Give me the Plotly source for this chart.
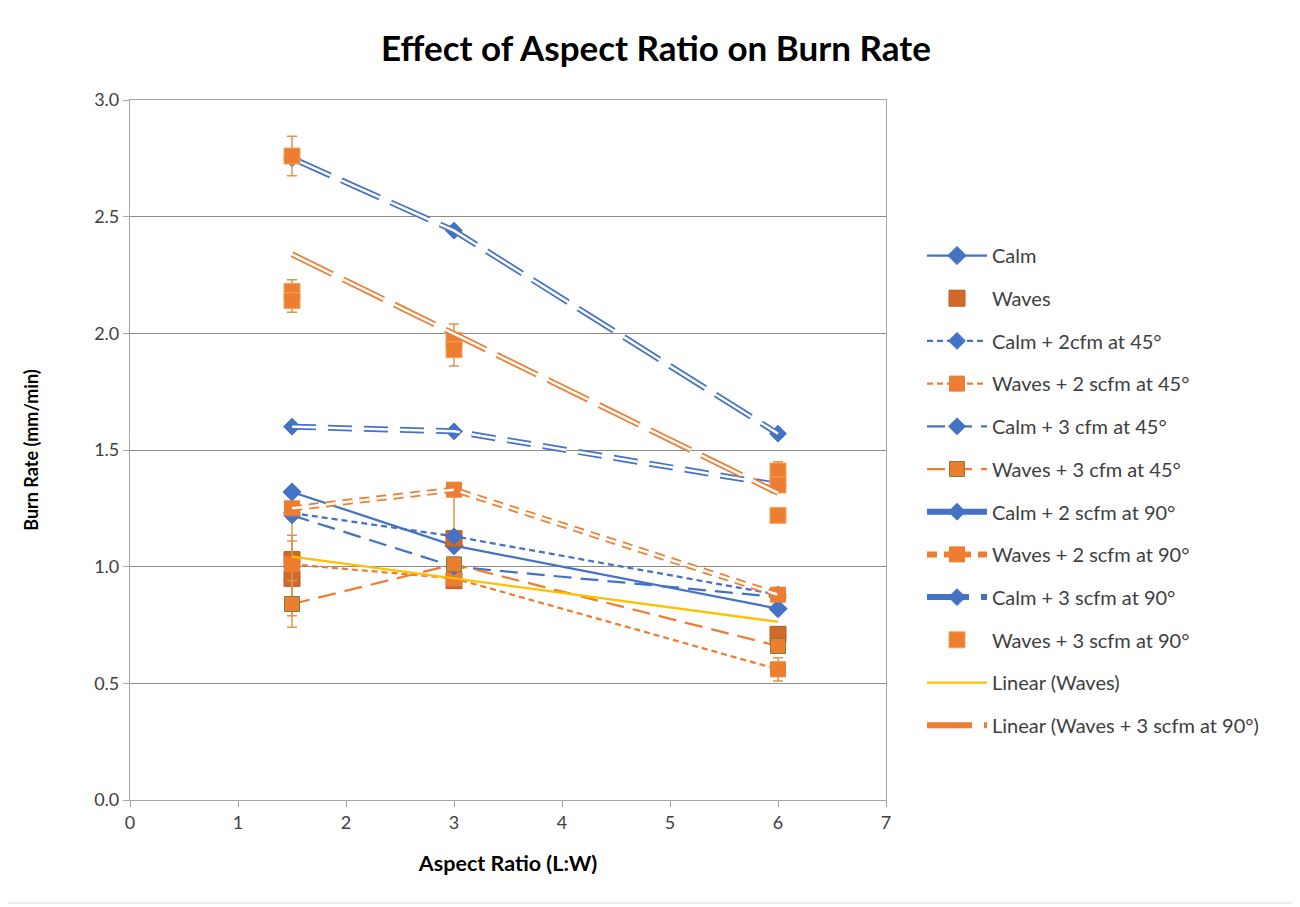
import numpy as np
import plotly.graph_objects as go

# ---------------- data ----------------
x3 = [1.5, 3, 6]

calm = [1.32, 1.09, 0.82]

waves_x = [1.5, 1.5, 3, 3, 6]
waves_y = [1.03, 0.95, 1.12, 0.94, 0.71]
waves_err_plus = [0.105, 0.16, 0.21, 0.0, 0.03]
waves_err_minus = [0.105, 0.16, 0.0, 0.0, 0.03]

calm_2cfm_45 = [1.23, 1.13, 0.88]
waves_2scfm_45 = [1.01, 0.95, 0.56]
waves_2scfm_45_err = [0.2, 0.0, 0.05]
calm_3cfm_45 = [1.22, 1.00, 0.87]
waves_3cfm_45 = [0.84, 1.01, 0.66]
waves_3cfm_45_err = [0.1, 0.0, 0.0]
calm_2scfm_90 = [1.60, 1.58, 1.35]
waves_2scfm_90 = [1.25, 1.33, 0.88]
calm_3scfm_90 = [2.75, 2.44, 1.57]

w3s90_x = [1.5, 1.5, 1.5, 3, 3, 6, 6, 6]
w3s90_y = [2.76, 2.18, 2.14, 1.97, 1.93, 1.41, 1.35, 1.22]
w3s90_err = [0.085, 0.05, 0.05, 0.07, 0.07, 0.04, 0.03, 0.0]

trend_x = [1.5, 6]

x_ticks = [0, 1, 2, 3, 4, 5, 6, 7]
y_ticks = [0.0, 0.5, 1.0, 1.5, 2.0, 2.5, 3.0]

# ---------------- styles ----------------
BLUE = "#4472C4"
ORANGE = "#ED7D31"
DORANGE = "#D0692A"
OLIVE = "#7F7F3A"
YELLOW = "#FFC000"
ERRC = "#D9964F"
FONT = "Lato"

fig = go.Figure()
gi = [0]


def grp():
    gi[0] += 1
    return "g%d" % gi[0]


def line_trace(y, name, color, dash, marker, msize, width=2.25, x=None,
               mline=None, err=None, double=False):
    g = grp()
    x = x3 if x is None else x
    mk = dict(symbol=marker, size=msize, color=color,
              line=dict(width=1, color=mline or color)) if marker else None
    kw = {}
    if err is not None:
        kw["error_y"] = dict(type="data", array=err, visible=True,
                             color=ERRC, thickness=1.5, width=5)
    if double:
        fig.add_trace(go.Scatter(x=x, y=y, name=name, legendgroup=g,
                                 mode="lines+markers" if marker else "lines",
                                 line=dict(color=color, width=6, dash=dash),
                                 marker=mk, **kw))
        fig.add_trace(go.Scatter(x=x, y=y, legendgroup=g, showlegend=False,
                                 mode="lines", hoverinfo="skip",
                                 line=dict(color="white", width=2.5, dash=dash)))
    else:
        fig.add_trace(go.Scatter(x=x, y=y, name=name, legendgroup=g,
                                 mode="lines+markers" if marker else "lines",
                                 line=dict(color=color, width=width, dash=dash),
                                 marker=mk, **kw))


# Calm
line_trace(calm, "Calm", BLUE, "solid", "diamond", 14)
# Waves (markers only)
fig.add_trace(go.Scatter(x=waves_x, y=waves_y, name="Waves", legendgroup=grp(),
                         mode="markers",
                         marker=dict(symbol="square", size=16, color=DORANGE,
                                     line=dict(width=1, color="#B85A1E")),
                         error_y=dict(type="data", array=waves_err_plus,
                                      arrayminus=waves_err_minus, visible=True,
                                      color=ERRC, thickness=1.5, width=5)))
line_trace(calm_2cfm_45, "Calm + 2cfm at 45°", BLUE, "6px,4px", "diamond", 13)
line_trace(waves_2scfm_45, "Waves + 2 scfm at 45°", ORANGE, "6px,4px", "square", 15,
           err=waves_2scfm_45_err)
line_trace(calm_3cfm_45, "Calm + 3 cfm at 45°", BLUE, "18px,9px", "diamond", 13)
line_trace(waves_3cfm_45, "Waves + 3 cfm at 45°", ORANGE, "18px,9px", "square", 15,
           mline=OLIVE, err=waves_3cfm_45_err)
line_trace(calm_2scfm_90, "Calm + 2 scfm at 90°", BLUE, "24px,12px", "diamond", 13,
           double=True)
line_trace(waves_2scfm_90, "Waves + 2 scfm at 90°", ORANGE, "10px,7px", "square", 15,
           double=True)
line_trace(calm_3scfm_90, "Calm + 3 scfm at 90°", BLUE, "42px,12px", "diamond", 13,
           double=True)
fig.add_trace(go.Scatter(x=w3s90_x, y=w3s90_y, name="Waves + 3 scfm at 90°",
                         legendgroup=grp(), mode="markers",
                         marker=dict(symbol="square", size=16, color=ORANGE,
                                     line=dict(width=1, color="#F4A460")),
                         error_y=dict(type="data", array=w3s90_err, visible=True,
                                      color=ERRC, thickness=1.5, width=5)))

# Linear trendlines (least squares fits of the data)
pw = np.polyfit(waves_x, waves_y, 1)
line_trace(list(np.polyval(pw, trend_x)), "Linear (Waves)", YELLOW, "solid", None, 0,
           width=2.25, x=trend_x)
pt = np.polyfit(w3s90_x, w3s90_y, 1)
line_trace(list(np.polyval(pt, trend_x)), "Linear (Waves + 3 scfm at 90°)", ORANGE,
           "45px,12px", None, 0, x=trend_x, double=True)

# ---------------- layout ----------------
# the page body adds an 8px offset; coordinates below are figure pixels
OFF = 8
L, R, T, B = 130 - OFF, 414 + OFF, 100 - OFF, 107 + OFF
W, H = 1300, 907
pw_px = W - L - R
ph_px = H - T - B


def px_x(p):  # screen px -> paper
    return (p - OFF - L) / pw_px


def px_y(q):  # screen px -> paper
    return (H - B - (q - OFF)) / ph_px


fig.update_layout(
    width=W, height=H,
    margin=dict(l=L, r=R, t=T, b=B),
    paper_bgcolor="white", plot_bgcolor="white",
    font=dict(family=FONT, size=16, color="#404040"),
    title=dict(text="<b>Effect of Aspect Ratio on Burn Rate</b>",
               x=(656 - OFF) / W, xref="container", xanchor="center",
               y=1 - (49 - OFF) / H, yref="container", yanchor="middle",
               font=dict(family=FONT, size=35, color="#000000")),
    showlegend=True,
    legend=dict(x=px_x(922), y=px_y(236), xanchor="left", yanchor="top",
                font=dict(family=FONT, size=20, color="#404040"),
                tracegroupgap=13.7, itemwidth=60, bgcolor="rgba(0,0,0,0)"),
    xaxis=dict(range=[0, 7], tickvals=x_ticks, ticktext=[str(v) for v in x_ticks],
               showgrid=False, zeroline=False,
               showline=True, linecolor="#A6A6A6", linewidth=1.2, mirror=True,
               ticks="outside", ticklen=6, tickcolor="#A6A6A6",
               tickfont=dict(family=FONT, size=18, color="#404040"),
               title=dict(text="<b>Aspect Ratio (L:W)</b>", standoff=24,
                          font=dict(family=FONT, size=21.5, color="#000000"))),
    yaxis=dict(range=[0, 3], tickvals=y_ticks, ticktext=["%.1f" % v for v in y_ticks],
               showgrid=True, gridcolor="#8C8C8C", gridwidth=1.2, zeroline=False,
               showline=True, linecolor="#A6A6A6", linewidth=1.2, mirror=True,
               ticks="outside", ticklen=6, tickcolor="#A6A6A6",
               tickfont=dict(family=FONT, size=18, color="#404040"),
               title=dict(text="<b>Burn Rate (mm/min)</b>", standoff=50,
                          font=dict(family=FONT, size=18, color="#000000"))),
    shapes=[dict(type="rect", xref="paper", yref="paper",
                 x0=px_x(2), x1=px_x(1294), y0=px_y(903), y1=px_y(2),
                 line=dict(color="#D9D9D9", width=1), fillcolor="rgba(0,0,0,0)",
                 layer="below")],
)

fig.write_html("out.html")
